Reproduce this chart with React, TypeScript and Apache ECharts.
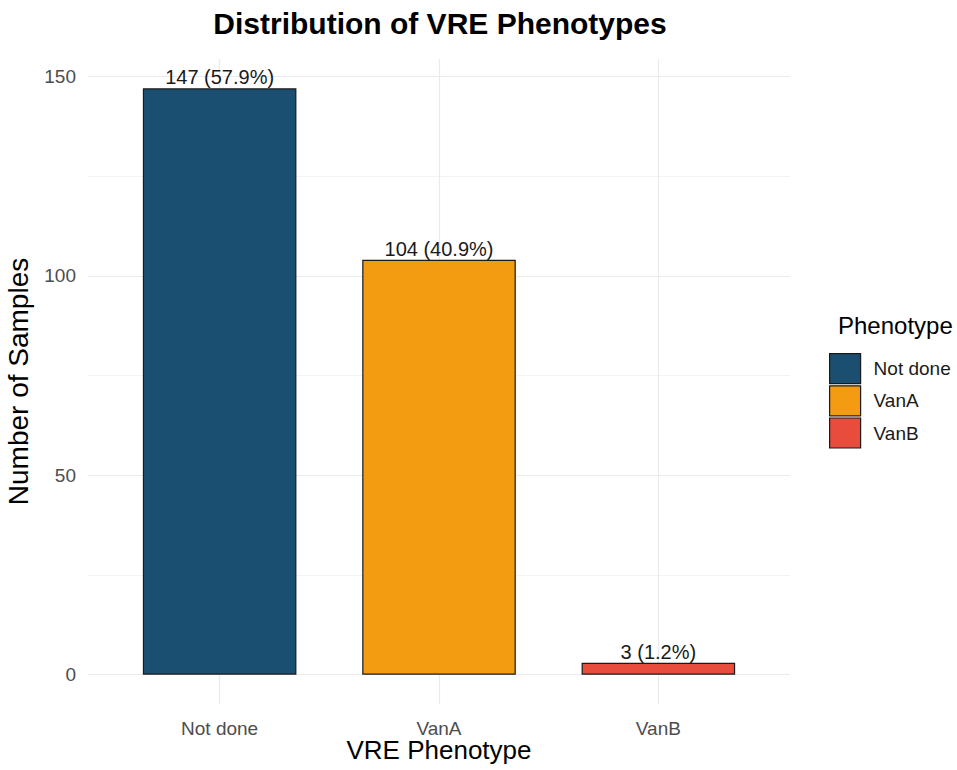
import React, { useEffect, useRef } from "react";
import * as echarts from "echarts";

const categories = ["Not done", "VanA", "VanB"];
const counts = [147, 104, 3];
const barColors = ["#1B4F72", "#F39C12", "#E74C3C"];
const positions = [1, 2, 3];
const yMajorTicks = [0, 50, 100, 150];
const yMinorTicks = [25, 75, 125];

const FONT = "'Liberation Sans', Arial, sans-serif";

export default function App() {
  const ref = useRef<HTMLDivElement>(null);

  useEffect(() => {
    if (!ref.current) return;
    const chart = echarts.init(ref.current, undefined, { renderer: "svg" });
    const total = counts.reduce((a, b) => a + b, 0);
    const maxV = Math.max(...counts);
    const pad = maxV * 0.05;

    const barSeries = categories.map((cat, i) => ({
      type: "bar",
      name: cat,
      data: [[positions[i], counts[i]]],
      barWidth: "70%",
      barGap: "-100%",
      z: 3,
      itemStyle: { color: barColors[i], borderColor: "#1a1a1a", borderWidth: 1.2 },
      label: {
        show: true,
        position: "top",
        distance: 1,
        fontFamily: FONT,
        fontSize: 20,
        color: "#1a1a1a",
        formatter: () => `${counts[i]} (${((counts[i] / total) * 100).toFixed(1)}%)`,
      },
    }));

    const gridSeries = {
      type: "line",
      data: [],
      z: 1,
      silent: true,
      markLine: {
        z: 1,
        symbol: "none",
        silent: true,
        animation: false,
        label: { show: false },
        emphasis: { disabled: true },
        data: [
          ...yMajorTicks.map((v) => ({ yAxis: v, lineStyle: { color: "#ebebeb", width: 1.2, type: "solid" } })),
          ...yMinorTicks.map((v) => ({ yAxis: v, lineStyle: { color: "#ebebeb", width: 0.6, type: "solid" } })),
          ...positions.map((x) => ({ xAxis: x, lineStyle: { color: "#ebebeb", width: 1.2, type: "solid" } })),
        ],
      },
    };

    chart.setOption({
      animation: false,
      backgroundColor: "#ffffff",
      textStyle: { fontFamily: FONT },
      title: [
        {
          text: "Distribution of VRE Phenotypes",
          left: 440,
          textAlign: "center",
          top: 8,
          padding: 0,
          textStyle: { fontFamily: FONT, fontSize: 30, fontWeight: "bold", color: "#000000" },
        },
        {
          text: "Phenotype",
          left: 838,
          top: 313,
          padding: 0,
          textStyle: { fontFamily: FONT, fontSize: 24, fontWeight: "normal", color: "#000000" },
        },
      ],
      legend: {
        data: categories,
        orient: "vertical",
        left: 829,
        top: 353,
        padding: 0,
        itemWidth: 31,
        itemHeight: 30,
        itemGap: 1,
        icon: "rect",
        itemStyle: { borderColor: "#1a1a1a", borderWidth: 1.2 },
        textStyle: { fontFamily: FONT, fontSize: 19, color: "#1a1a1a", padding: [0, 0, 0, 8] },
      },
      grid: { left: 88, right: 167, top: 59, bottom: 66, containLabel: false, outerBoundsMode: "none" },
      xAxis: {
        type: "value",
        min: positions[0] - 0.6,
        max: positions[positions.length - 1] + 0.6,
        name: "VRE Phenotype",
        nameLocation: "middle",
        nameGap: 33,
        nameMoveOverlap: false,
        nameTextStyle: { fontFamily: FONT, fontSize: 26, color: "#000000" },
        axisLine: { show: false },
        axisTick: { show: false },
        splitLine: { show: false },
        axisLabel: {
          customValues: positions,
          formatter: (v: number) => categories[Math.round(v) - 1] ?? "",
          fontFamily: FONT,
          fontSize: 19,
          color: "#4d4d4d",
          margin: 15,
        },
      },
      yAxis: {
        type: "value",
        min: -pad,
        max: maxV + pad,
        name: "Number of Samples",
        nameLocation: "middle",
        nameGap: 56,
        nameTextStyle: { fontFamily: FONT, fontSize: 28, color: "#000000" },
        axisLine: { show: false },
        axisTick: { show: false },
        splitLine: { show: false },
        axisLabel: {
          customValues: yMajorTicks,
          fontFamily: FONT,
          fontSize: 19,
          color: "#4d4d4d",
          margin: 12,
        },
      },
      series: [gridSeries, ...barSeries],
    });

    return () => chart.dispose();
  }, []);

  return (
    <div
      ref={ref}
      style={{ position: "absolute", left: 0, top: 0, width: 957, height: 770 }}
    />
  );
}
